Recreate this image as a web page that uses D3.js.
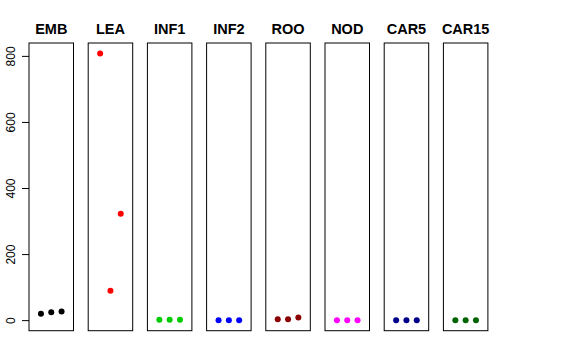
<!DOCTYPE html>
<html>
<head>
<meta charset="utf-8">
<script src="https://cdn.jsdelivr.net/npm/d3@7"></script>
<style>
  body { margin: 0; background: #fff; }
  svg { font-family: "Liberation Sans", Arial, sans-serif; }
</style>
</head>
<body>
<svg width="576" height="360"></svg>
<script>
// tissues, one panel each
var tissues = ["EMB", "LEA", "INF1", "INF2", "ROO", "NOD", "CAR5", "CAR15"];
var colors = ["#000000", "#FF0000", "#00CD00", "#0000FF", "#8B0000", "#FF00FF", "#00008B", "#006400"];

// three replicate values per tissue
var rep1 = [19, 807, 1, 0, 3, 0, 0, 0];
var rep2 = [24, 89, 1, 0, 3, 0, 0, 0];
var rep3 = [26, 322, 1, 0, 8, 0, 0, 0];

var yTicks = [0, 200, 400, 600, 800];

window.addEventListener("DOMContentLoaded", function () {
    drawChart();
});

function drawChart() {
    var svg = d3.select("svg");
    var top = 43, bottom = 330.7;
    var left = 29, step = 59.2, panelW = 44.5;

    var y = d3.scaleLinear().domain([-32, 839]).range([bottom, top]);
    var x = d3.scaleLinear().domain([-0.16, 4.16]).range([0, panelW]);

    var panel = d3.scaleLinear().domain([0, 1]).range([left, left + step]);

    // y axis
    var yAxis = svg.append("g")
        .attr("transform", "translate(" + left + ",0)")
        .call(d3.axisLeft(y).tickValues(yTicks).tickSize(7).tickPadding(0));
    yAxis.select(".domain").remove();
    yAxis.selectAll("line").attr("stroke", "#000");
    yAxis.selectAll("text").remove();
    yAxis.selectAll(".tick").append("text")
        .attr("transform", "translate(-14,0) rotate(-90)")
        .attr("text-anchor", "middle")
        .attr("fill", "#000")
        .style("font-size", "12px")
        .text(function (d) { return d; });

    tissues.forEach(function (t, i) {
        var g = svg.append("g")
            .attr("transform", "translate(" + panel(i) + ",0)");

        g.append("rect")
            .attr("x", 0)
            .attr("y", top)
            .attr("width", panelW)
            .attr("height", bottom - top)
            .attr("fill", "none")
            .attr("stroke", "#000")
            .attr("stroke-width", 1);

        g.append("text")
            .attr("x", panelW / 2)
            .attr("y", 34)
            .attr("text-anchor", "middle")
            .style("font-size", "14.5px")
            .style("font-weight", "bold")
            .text(t);

        var vals = [rep1[i], rep2[i], rep3[i]];
        g.selectAll("circle")
            .data(vals)
            .enter()
            .append("circle")
            .attr("cx", function (d, j) { return x(j + 1); })
            .attr("cy", function (d) { return y(d); })
            .attr("r", 3)
            .attr("fill", colors[i]);
    });
}
</script>
</body>
</html>
